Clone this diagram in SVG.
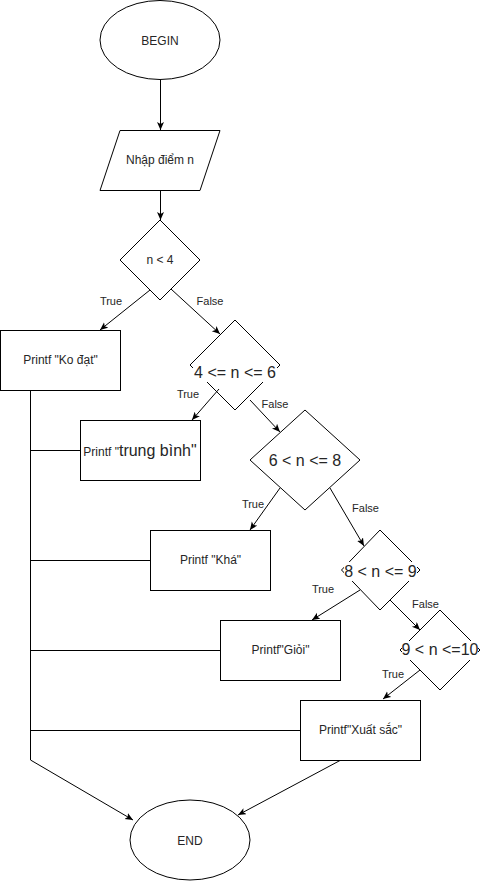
<svg xmlns="http://www.w3.org/2000/svg" width="481" height="881" viewBox="0 0 481 881">
<style>
.s{fill:#fff;stroke:#000;stroke-width:1}
.t{font-family:"Liberation Sans",Arial,Helvetica,sans-serif;font-size:12px;fill:#262626;text-anchor:middle}
.big{font-size:16px}
.lbl{font-family:"Liberation Sans",Arial,Helvetica,sans-serif;font-size:11px;fill:#262626;text-anchor:middle}
.bg{fill:#fff;stroke:none}
.c{fill:none;stroke:#000;stroke-width:1}
.a{marker-end:url(#arr)}
</style>
<defs>
<marker id="arr" markerUnits="userSpaceOnUse" markerWidth="10" markerHeight="9" refX="8" refY="3.5" orient="auto">
<path d="M0,0 L8,3.5 L0,7 L2,3.5 Z" fill="#000"/>
</marker>
</defs>
<rect width="481" height="881" fill="#fff"/>

<g id="begin">
<ellipse class="s" cx="160" cy="40" rx="60" ry="39.5"/>
<text class="t" x="160" y="44.5">BEGIN</text>
</g>
<g id="input">
<polygon class="s" points="120,130.5 220,130.5 200,190.5 100,190.5"/>
<text class="t" x="160" y="164">Nhập điểm n</text>
</g>
<g id="d1">
<polygon class="s" points="160,220 200,260 160,300 120,260"/>
<text class="t" x="160" y="264">n &lt; 4</text>
</g>
<g id="p1">
<rect class="s" x="0.5" y="330.5" width="120" height="60"/>
<text class="t" x="60.5" y="364">Printf "Ko đạt"</text>
</g>
<g id="d2">
<polygon class="s" points="235,320 280,365 235,410 190,365"/>
<rect class="bg" x="193" y="363" width="84" height="19"/>
<text class="t big" x="235" y="378">4 &lt;= n &lt;= 6</text>
</g>
<g id="p2">
<rect class="s" x="80.5" y="420.5" width="120" height="60"/>
<text class="t" x="140" y="455.5">Printf "<tspan class="big" font-size="16">trung bình"</tspan></text>
</g>
<g id="d3">
<polygon class="s" points="305,410 360,460 305,510 250,460"/>
<rect class="bg" x="268" y="451" width="74" height="19"/>
<text class="t big" x="305" y="466">6 &lt; n &lt;= 8</text>
</g>
<g id="p3">
<rect class="s" x="150.5" y="530.5" width="120" height="60"/>
<text class="t" x="210.5" y="564">Printf "Khá"</text>
</g>
<g id="d4">
<polygon class="s" points="380,530 420,570 380,610 341.5,570"/>
<rect class="bg" x="344" y="562" width="73" height="19"/>
<text class="t big" x="380.5" y="576.5">8 &lt; n &lt;= 9</text>
</g>
<g id="p4">
<rect class="s" x="220.5" y="620.5" width="120" height="60"/>
<text class="t" x="280.5" y="654">Printf"Giỏi"</text>
</g>
<g id="d5">
<polygon class="s" points="440,610 480,650 440,690 400,650"/>
<rect class="bg" x="402" y="641" width="76" height="19"/>
<text class="t big" x="440" y="655">9 &lt; n &lt;=10</text>
</g>
<g id="p5">
<rect class="s" x="300.5" y="700.5" width="120" height="60"/>
<text class="t" x="360.5" y="734">Printf"Xuất sắc"</text>
</g>
<g id="end">
<ellipse class="s" cx="190" cy="840" rx="60" ry="40"/>
<text class="t" x="190" y="844.5">END</text>
</g>

<g id="connectors">
<line class="c a" x1="160.5" y1="80" x2="160.5" y2="130"/>
<line class="c a" x1="160.5" y1="190.5" x2="160.5" y2="220"/>
<line class="c a" x1="150" y1="290" x2="100" y2="330"/>
<line class="c a" x1="171" y1="289" x2="220" y2="334"/>
<line class="c a" x1="219" y1="389" x2="192" y2="420"/>
<line class="c a" x1="250" y1="400" x2="280" y2="432"/>
<line class="c a" x1="280" y1="488" x2="250" y2="530"/>
<line class="c a" x1="330" y1="488" x2="364" y2="546"/>
<line class="c a" x1="360" y1="590" x2="312" y2="620"/>
<line class="c a" x1="390" y1="600" x2="420" y2="630"/>
<line class="c a" x1="420" y1="670" x2="383" y2="699"/>
<line class="c a" x1="340" y1="760.5" x2="238" y2="815"/>
<polyline class="c a" points="30.5,390.5 30.5,760 133,820"/>
<line class="c" x1="30.5" y1="450.5" x2="80.5" y2="450.5"/>
<line class="c" x1="30.5" y1="560.5" x2="150.5" y2="560.5"/>
<line class="c" x1="30.5" y1="650.5" x2="220.5" y2="650.5"/>
<line class="c" x1="30.5" y1="730.5" x2="300.5" y2="730.5"/>
<text class="lbl" x="111" y="304.5">True</text>
<text class="lbl" x="210" y="304.5">False</text>
<text class="lbl" x="188" y="398">True</text>
<text class="lbl" x="275" y="408">False</text>
<text class="lbl" x="253" y="508">True</text>
<text class="lbl" x="365.5" y="512">False</text>
<text class="lbl" x="323" y="593">True</text>
<text class="lbl" x="425.5" y="608">False</text>
<text class="lbl" x="393" y="678">True</text>
</g>
</svg>
